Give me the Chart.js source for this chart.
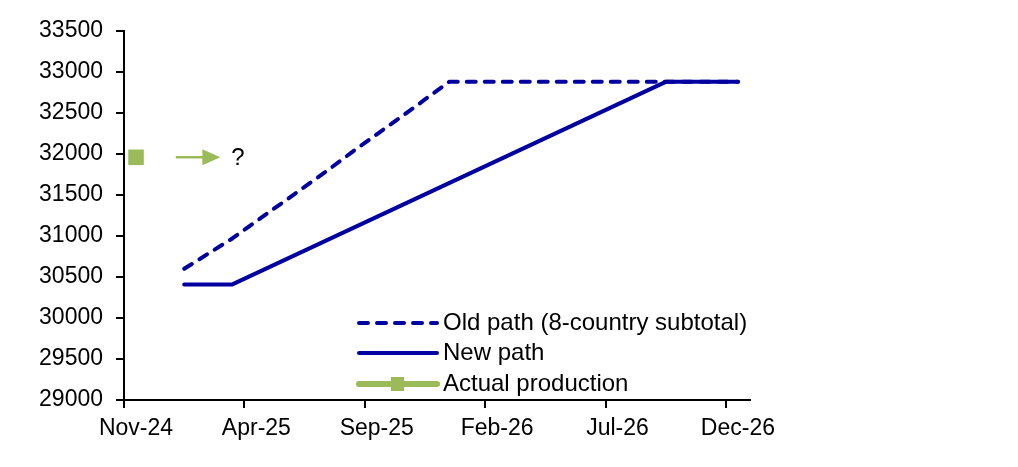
<!DOCTYPE html>
<html>
<head>
<meta charset="utf-8">
<script src="https://cdn.jsdelivr.net/npm/chart.js@4/dist/chart.umd.min.js"></script>
<style>
  html, body { margin: 0; padding: 0; background: #fff; }
  #wrap { width: 1018px; height: 467px; position: relative; }
</style>
</head>
<body>
<div id="wrap"><canvas id="chart"></canvas></div>
<script>
// months from Nov-24, one entry per month
const months = ['Nov-24','Dec-24','Jan-25','Feb-25','Mar-25','Apr-25','May-25','Jun-25','Jul-25','Aug-25','Sep-25','Oct-25','Nov-25','Dec-25',
                'Jan-26','Feb-26','Mar-26','Apr-26','May-26','Jun-26','Jul-26','Aug-26','Sep-26','Oct-26','Nov-26','Dec-26'];
const xTickLabels = ['Nov-24','Apr-25','Sep-25','Feb-26','Jul-26','Dec-26'];
const yTicks = [29000, 33500, 500]; // min, max, step

const oldPath = [null, null, 30600, 30785, 30970, 31180, 31390, 31600, 31810, 32030, 32240, 32450, 32665, 32880,
                 32880, 32880, 32880, 32880, 32880, 32880, 32880, 32880, 32880, 32880, 32880, 32880];
const newPath = [null, null, 30410, 30410, 30410, 30547, 30684, 30822, 30959, 31096, 31233, 31370, 31508, 31645,
                 31782, 31919, 32057, 32194, 32331, 32468, 32605, 32743, 32880, 32880, 32880, 32880];
const actual  = [31960];

// annotation: arrow after the last actual value, then "?"
const arrowFrom = 2.15, arrowTo = 4.0, questionAt = 4.45;

const BLUE = '#0000a0';
const GREEN = '#9bbb59';
const FONT = '"Liberation Sans", Arial, Helvetica, sans-serif';

function toPoints(arr) {
    // Excel-style date axis: a month's value sits in the middle of the month
    return arr.map((v, i) => v == null ? null : { x: i + 0.5, y: v }).filter(p => p);
}

const annotations = {
    id: 'annotations',
    afterDatasetsDraw(chart) {
        const ctx = chart.ctx;
        const xs = chart.scales.x, ys = chart.scales.y;
        const y = ys.getPixelForValue(actual[actual.length - 1]);
        const x1 = xs.getPixelForValue(arrowFrom), x2 = xs.getPixelForValue(arrowTo);
        ctx.save();
        ctx.strokeStyle = GREEN;
        ctx.fillStyle = GREEN;
        ctx.lineWidth = 2.5;
        ctx.beginPath();
        ctx.moveTo(x1, y);
        ctx.lineTo(x2 - 12, y);
        ctx.stroke();
        ctx.beginPath();
        ctx.moveTo(x2, y);
        ctx.lineTo(x2 - 18, y - 8);
        ctx.lineTo(x2 - 18, y + 8);
        ctx.closePath();
        ctx.fill();
        ctx.fillStyle = '#000';
        ctx.font = '24px ' + FONT;
        ctx.textBaseline = 'middle';
        ctx.fillText('?', xs.getPixelForValue(questionAt), y + 1);

        // legend inside the plot
        const lx1 = 357, lx2 = 437, tx = 443;
        const rows = [323, 353, 384];
        ctx.lineCap = 'round';
        ctx.strokeStyle = BLUE;
        ctx.lineWidth = 4;
        ctx.setLineDash([9, 9]);
        ctx.beginPath(); ctx.moveTo(lx1 + 2, rows[0]); ctx.lineTo(lx2, rows[0]); ctx.stroke();
        ctx.setLineDash([]);
        ctx.beginPath(); ctx.moveTo(lx1 + 2, rows[1]); ctx.lineTo(lx2, rows[1]); ctx.stroke();
        ctx.strokeStyle = GREEN;
        ctx.lineWidth = 6;
        ctx.beginPath(); ctx.moveTo(lx1 + 2, rows[2]); ctx.lineTo(lx2, rows[2]); ctx.stroke();
        ctx.fillStyle = GREEN;
        ctx.fillRect((lx1 + lx2) / 2 - 6, rows[2] - 7, 13, 14);
        ctx.fillStyle = '#000';
        ctx.fillText(chart.data.datasets[1].label, tx, rows[0]);
        ctx.fillText(chart.data.datasets[0].label, tx, rows[1]);
        ctx.fillText(chart.data.datasets[2].label, tx, rows[2]);
        ctx.restore();
    }
};

new Chart(document.getElementById('chart'), {
    type: 'line',
    data: {
        datasets: [
            {
                label: 'New path',
                data: toPoints(newPath),
                borderColor: BLUE,
                borderWidth: 4,
                pointRadius: 0,
                borderJoinStyle: 'round',
                borderCapStyle: 'round',
                tension: 0
            },
            {
                label: 'Old path (8-country subtotal)',
                data: toPoints(oldPath),
                borderColor: BLUE,
                borderWidth: 4,
                borderDash: [9, 9],
                pointRadius: 0,
                borderJoinStyle: 'round',
                borderCapStyle: 'round',
                tension: 0
            },
            {
                label: 'Actual production',
                data: toPoints(actual),
                borderColor: GREEN,
                backgroundColor: GREEN,
                showLine: false,
                pointStyle: 'rect',
                pointRadius: 11,
                pointBorderWidth: 0
            }
        ]
    },
    options: {
        responsive: true,
        maintainAspectRatio: false,
        animation: false,
        devicePixelRatio: 1,
        layout: { padding: { top: 31, right: 268, left: 0, bottom: 0 } },
        plugins: { legend: { display: false }, tooltip: { enabled: false } },
        scales: {
            x: {
                type: 'linear',
                min: 0,
                max: months.length,
                afterFit(scale) { scale.height = 67; },
                afterBuildTicks(scale) {
                    scale.ticks = xTickLabels.map((_, i) => ({ value: i * 5 }));
                },
                ticks: {
                    color: '#000',
                    font: { family: FONT, size: 23 },
                    padding: 7,
                    maxRotation: 0,
                    labelOffset: 12,
                    callback: (v) => xTickLabels[v / 5]
                },
                grid: { drawOnChartArea: false, color: '#000', tickLength: 8, lineWidth: 2 },
                border: { color: '#000', width: 2 }
            },
            y: {
                min: yTicks[0],
                max: yTicks[1],
                afterFit(scale) { scale.width = 124; },
                ticks: {
                    stepSize: yTicks[2],
                    color: '#000',
                    font: { family: FONT, size: 23 },
                    padding: 13,
                    callback: (v) => String(v)
                },
                grid: { drawOnChartArea: false, color: '#000', tickLength: 8, lineWidth: 2 },
                border: { color: '#000', width: 2 }
            }
        }
    },
    plugins: [annotations]
});
</script>
</body>
</html>
